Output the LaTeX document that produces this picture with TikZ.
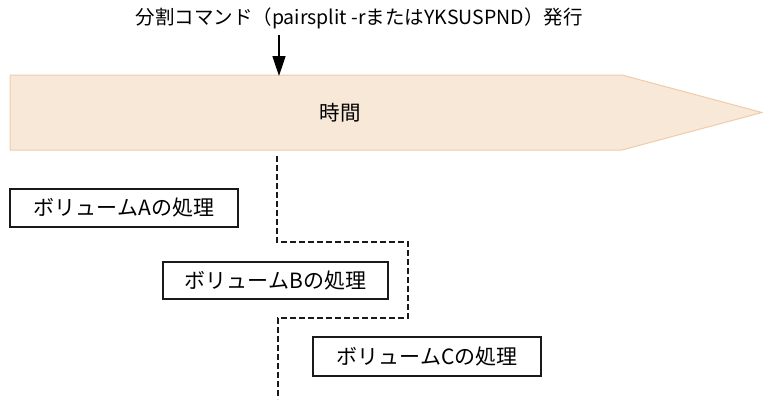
\documentclass[tikz,border=0pt]{standalone}
\usepackage{fontspec}
\setmainfont{Noto Sans CJK JP}
\usetikzlibrary{arrows.meta}
\definecolor{bandfill}{HTML}{F8E8D8}
\definecolor{bandline}{HTML}{EFCCAA}
\definecolor{ink}{HTML}{1A1A1A}
\tikzset{
  procbox/.style={draw=ink, line width=1.6pt, fill=white, inner sep=0pt, text=black, font=\fontsize{21}{24}\selectfont},
  lbl/.style={text=black, inner sep=0pt, font=\fontsize{19.5}{22}\selectfont},
  dashline/.style={draw=ink, line width=1.4pt, dash pattern=on 6pt off 3pt},
  arr/.style={draw=black, line width=1.6pt, -{Triangle[length=20pt,width=13pt]}}
}
\begin{document}
\begin{tikzpicture}[x=1pt,y=-1pt]
\useasboundingbox (0,0) rectangle (763,399);
% time band
\path[fill=bandfill, draw=bandline, line width=1pt]
  (10,75) -- (622,75) -- (762,112.5) -- (622,150) -- (10,150) -- cycle;
\node[lbl, font=\fontsize{20.5}{23}\selectfont] (time) at (340,113) {時間};
% command label and arrow
\node[lbl] (cmd) at (359,18) {分割コマンド（pairsplit -rまたはYKSUSPND）発行};
\coordinate (arrS) at (279,35);
\coordinate (arrE) at (279,76);
\draw[arr] (arrS) -- (arrE);
% boxes
\node[procbox, minimum width=228pt, minimum height=38pt] (A) at (124,208) {ボリュームAの処理};
\node[procbox, minimum width=225pt, minimum height=37pt] (B) at (275.5,280.5) {ボリュームBの処理};
\node[procbox, minimum width=228pt, minimum height=39pt] (C) at (427,356.5) {ボリュームCの処理};
% dashed boundary
\coordinate (d0) at (277,156);
\coordinate (d1) at (277,242);
\coordinate (d2) at (408,242);
\coordinate (d3) at (408,318);
\coordinate (d4) at (278,318);
\coordinate (d5) at (278,399);
\draw[dashline] (d0) -- (d1) -- (d2) -- (d3) -- (d4) -- (d5);
\end{tikzpicture}
\end{document}
